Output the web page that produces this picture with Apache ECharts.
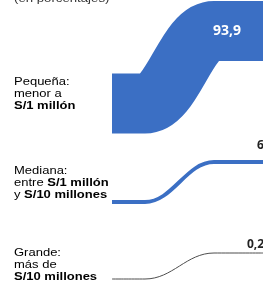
<!DOCTYPE html>
<html>
<head>
<meta charset="utf-8">
<script src="https://cdn.jsdelivr.net/npm/echarts@6/dist/echarts.min.js"></script>
<style>
  html, body { margin: 0; padding: 0; background: #fff; }
  #chart { width: 263px; height: 284px; }
</style>
</head>
<body>
<div id="chart"></div>
<script>
  // empresas según tamaño (ventas anuales), en %
  const categories = ['Pequeña', 'Mediana', 'Grande']
  const values = [93.9, 6.0, 0.2]
  // nivel vertical de cada franja al inicio y al final (eje invertido)
  const startLevel = [103.5, 202, 279]
  const endLevel = [31, 162, 253]
  // tramos del eje x: inicio, comienzo de curva, fin de curva, borde
  const xSteps = [0, 33, 102, 151]

  const blue = '#3b6fc4'
  const lineColors = [blue, blue, '#4d4d4d']
  const fmt = v => v.toFixed(1).replace('.', ',')

  // etiquetas del valor a la derecha
  const valueLabels = [
    {x: xSteps[3] - 35, align: 'center', offset: [-1, 0], color: '#fff', size: 14},
    {x: xSteps[3], align: 'left', offset: [-6, -16], color: '#222', size: 12},
    {x: xSteps[3], align: 'left', offset: [-16, -8], color: '#222', size: 12}
  ]

  const series = categories.map((name, i) => ({
    name: name,
    type: 'line',
    smooth: 0.4,
    smoothMonotone: 'x',
    symbol: 'none',
    lineStyle: {
      width: Math.max(1, values[i] * 0.64),
      color: lineColors[i],
      cap: 'butt'
    },
    data: [
      [xSteps[0], startLevel[i]],
      [xSteps[1], startLevel[i]],
      [xSteps[2], endLevel[i]],
      [xSteps[3], endLevel[i]]
    ],
    markPoint: {
      symbol: 'rect',
      symbolSize: 1,
      itemStyle: {color: 'transparent'},
      data: [{coord: [valueLabels[i].x, endLevel[i]], value: values[i]}],
      label: {
        show: true,
        position: 'inside',
        align: valueLabels[i].align,
        offset: valueLabels[i].offset,
        formatter: p => fmt(p.value),
        color: valueLabels[i].color,
        fontSize: valueLabels[i].size,
        fontWeight: 'bold',
        fontFamily: 'Open Sans'
      }
    }
  }))

  const richStyle = {
    n: {fontSize: 10, color: '#5a5a5a', fontFamily: 'Liberation Sans', lineHeight: 12},
    b: {fontSize: 10, color: '#1a1a1a', fontWeight: 'bold', fontFamily: 'Liberation Sans', lineHeight: 12}
  }
  const leftText = (text, y) => ({
    type: 'text',
    x: 14,
    y: y,
    scaleX: 1.3,
    style: {text: text, rich: richStyle, verticalAlign: 'top'}
  })

  const myChart = echarts.init(document.getElementById('chart'))
  myChart.setOption({
    animation: false,
    grid: {left: 112, right: 0, top: 0, bottom: 0},
    xAxis: {type: 'value', min: 0, max: xSteps[3], show: false},
    yAxis: {type: 'value', min: 0, max: 284, inverse: true, show: false},
    graphic: [
      {
        type: 'text', x: 14, y: -7, scaleX: 1.2,
        style: {text: '(en porcentajes)', fontSize: 11, fill: '#333', fontFamily: 'Liberation Sans'}
      },
      leftText('{n|Pequeña:}\n{n|menor a}\n{b|S/1 millón}', 76),
      leftText('{n|Mediana:}\n{n|entre }{b|S/1 millón}\n{n|y }{b|S/10 millones}', 165),
      leftText('{n|Grande:}\n{n|más de}\n{b|S/10 millones}', 247)
    ],
    series: series
  })
</script>
</body>
</html>
